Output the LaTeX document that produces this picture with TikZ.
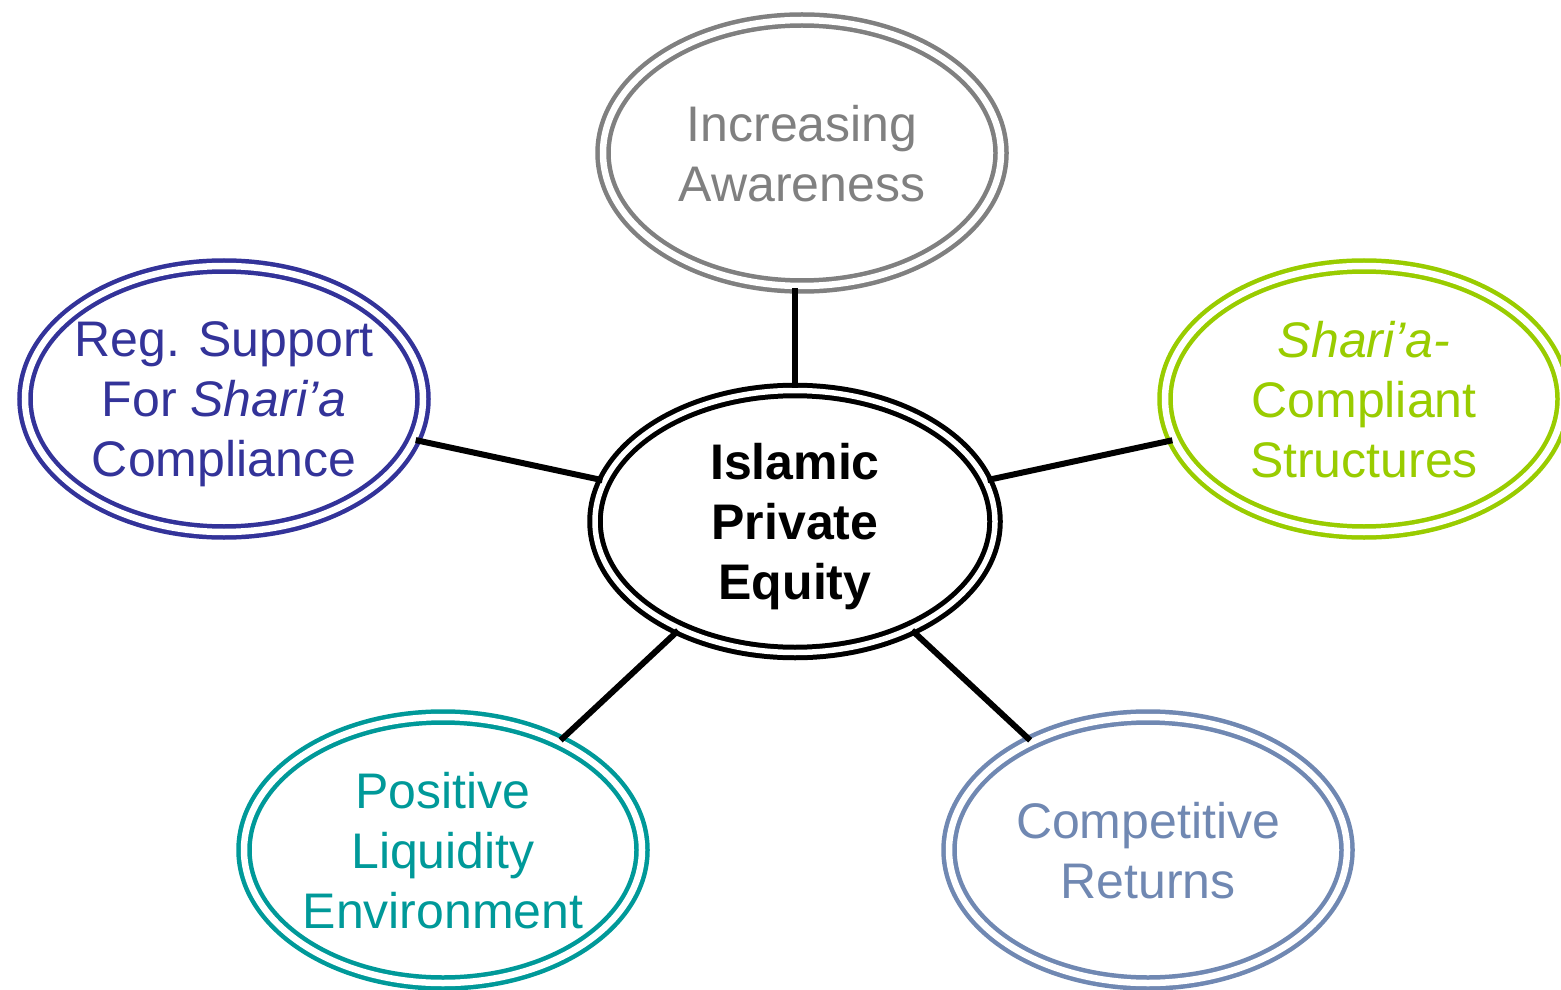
\documentclass[tikz,border=0pt]{standalone}
\usepackage{fontspec}
\setmainfont{Liberation Sans}
\usetikzlibrary{shapes.geometric}
\definecolor{cgray}{HTML}{808080}
\definecolor{cnavy}{HTML}{333399}
\definecolor{cgreen}{HTML}{99CC00}
\definecolor{cteal}{HTML}{009999}
\definecolor{cblue}{HTML}{7088B2}
\tikzset{
  bubble/.style={ellipse, draw=#1, text=#1, double=white, line width=2.25pt,
    double distance=3.25pt, minimum width=199pt, minimum height=133pt,
    inner xsep=-30pt, inner ysep=0pt, text depth=0pt, align=center,
    execute at begin node={\rule{0pt}{20pt}},
    font=\fontsize{25}{30}\selectfont},
  hub/.style={ellipse, draw=black, double=white, line width=2.5pt,
    double distance=2.75pt, minimum width=200pt, minimum height=131pt,
    inner xsep=-30pt, inner ysep=0pt, text depth=0pt, align=center,
    execute at begin node={\rule{0pt}{22pt}},
    font=\fontsize{25}{30}\selectfont\bfseries},
  link/.style={draw=black, line width=3pt}
}
\begin{document}
\begin{tikzpicture}[x=0.5pt,y=-0.5pt]
\useasboundingbox (0,0) rectangle (1561,989);
\node[hub] (c) at (795,521.5) {Islamic\\Private\\Equity};
\node[bubble=cgray] (t) at (802,153) {Increasing\\Awareness};
\node[bubble=cnavy] (l) at (224,399) {Reg. Support\\For \textit{Shari’a}\\Compliance};
\node[bubble=cgreen] (r) at (1364,399) {\textit{Shari’a-}\\Compliant\\Structures};
\node[bubble=cteal] (bl) at (443,850) {Positive\\Liquidity\\Environment};
\node[bubble=cblue] (br) at (1148,850) {Competitive\\Returns};
\draw[link] (t.south -| c.north) -- (c.north);
\draw[link] (l) -- (c);
\draw[link] (r) -- (c);
\draw[link] (bl) -- (c);
\draw[link] (br) -- (c);
\end{tikzpicture}
\end{document}
